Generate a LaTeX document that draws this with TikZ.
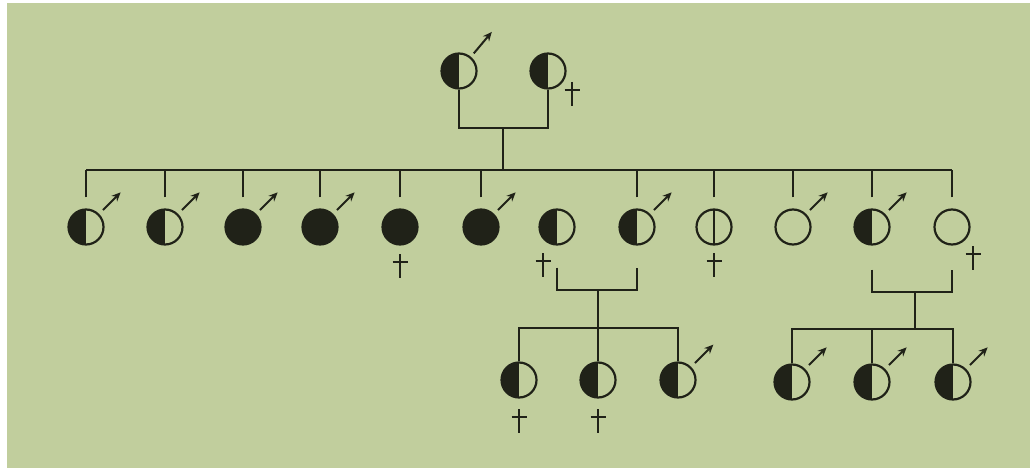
\documentclass[tikz,border=0pt]{standalone}
\usetikzlibrary{arrows.meta,calc}
\definecolor{paper}{RGB}{193,206,157}
\definecolor{ink}{RGB}{32,34,24}
\begin{document}
\begin{tikzpicture}[x=1pt,y=-1pt,
  ind/.style={circle,draw=ink,line width=2.2pt,minimum size=35pt,inner sep=0pt},
  half/.style={ind,path picture={\fill[ink] (path picture bounding box.south west) rectangle (path picture bounding box.north);}},
  full/.style={ind,fill=ink},
  open/.style={ind},
  split/.style={ind,path picture={\draw[ink,line width=2pt] (path picture bounding box.south) -- (path picture bounding box.north);}},
  line/.style={draw=ink,line width=2pt},
  male/.style={draw=ink,line width=2pt,-{Stealth[length=9pt,width=8pt]}},
  pics/dagg/.style={code={\draw[ink,line width=2.4pt] (0,-12) -- (0,12); \draw[ink,line width=2.2pt] (-7.5,-4) -- (7.5,-4);}}
]
% background
\fill[white] (0,0) rectangle (1030,468);
\fill[paper] (7,3) rectangle (1030,468);

% generation I
\node[half] (a1) at (459,71) {};
\node[half] (a2) at (548,71) {};
\draw[male] ($(a1)+(-50:23)$) -- ($(a1)+(-50:51)$);
\pic at (572,94) {dagg};
\coordinate (mar1) at (503,128);
\draw[line] (a1.south) |- (mar1) -| (a2.south);

% generation II
\node[half]  (b1)  at (86,227) {};
\node[half]  (b2)  at (165,227) {};
\node[full]  (b3)  at (243,227) {};
\node[full]  (b4)  at (320,227) {};
\node[full]  (b5)  at (400,227) {};
\node[full]  (b6)  at (481,227) {};
\node[half]  (b7)  at (557,227) {};
\node[half]  (b8)  at (637,227) {};
\node[split] (b9)  at (714,227) {};
\node[open]  (b10) at (793,227) {};
\node[half]  (b11) at (872,227) {};
\node[open]  (b12) at (952,227) {};

\coordinate (bar2) at (503,170);
\draw[line] (mar1) -- (bar2);
\foreach \i in {1,2,3,4,5,6,8,9,10,11,12}{
  \path (b\i.north) ++(0,-11) coordinate (t\i);
  \draw[line] (t\i) -- (t\i |- bar2);
}
\draw[line] (t1 |- bar2) -- (t12 |- bar2);

\foreach \i in {1,2,3,4,6,8,10,11}{
  \draw[male] ($(b\i)+(-45:24)$) -- ($(b\i)+(-45:49)$);
}
\pic at (400,266) {dagg};
\pic at (543,265) {dagg};
\pic at (714,265) {dagg};
\pic at (973,258) {dagg};

% left family
\coordinate (mar2) at (598,290);
\coordinate (bar3) at (598,328);
\draw[line] ($(b7.south)+(0,22)$) |- (mar2) -| ($(b8.south)+(0,22)$);
\draw[line] (mar2) -- (bar3);
\node[half] (c1) at (519,380) {};
\node[half] (c2) at (598,380) {};
\node[half] (c3) at (678,380) {};
\draw[line] (c1.north) |- (bar3) -| (c3.north);
\draw[line] (bar3) -- (c2.north);
\draw[male] ($(c3)+(-45:24)$) -- ($(c3)+(-45:50)$);
\pic at (519,421) {dagg};
\pic at (598,421) {dagg};

% right family
\coordinate (mar3) at (915,292);
\coordinate (bar4) at (915,329);
\draw[line] ($(b11.south)+(0,24)$) |- (mar3) -| ($(b12.south)+(0,24)$);
\draw[line] (mar3) -- (bar4);
\node[half] (d1) at (792,382) {};
\node[half] (d2) at (872,382) {};
\node[half] (d3) at (953,382) {};
\draw[line] (d1.north) |- (bar4) -| (d3.north);
\draw[line] (d2.north) -- (d2.north |- bar4);
\foreach \i in {1,2,3}{
  \draw[male] ($(d\i)+(-45:24)$) -- ($(d\i)+(-45:49)$);
}
\end{tikzpicture}
\end{document}
